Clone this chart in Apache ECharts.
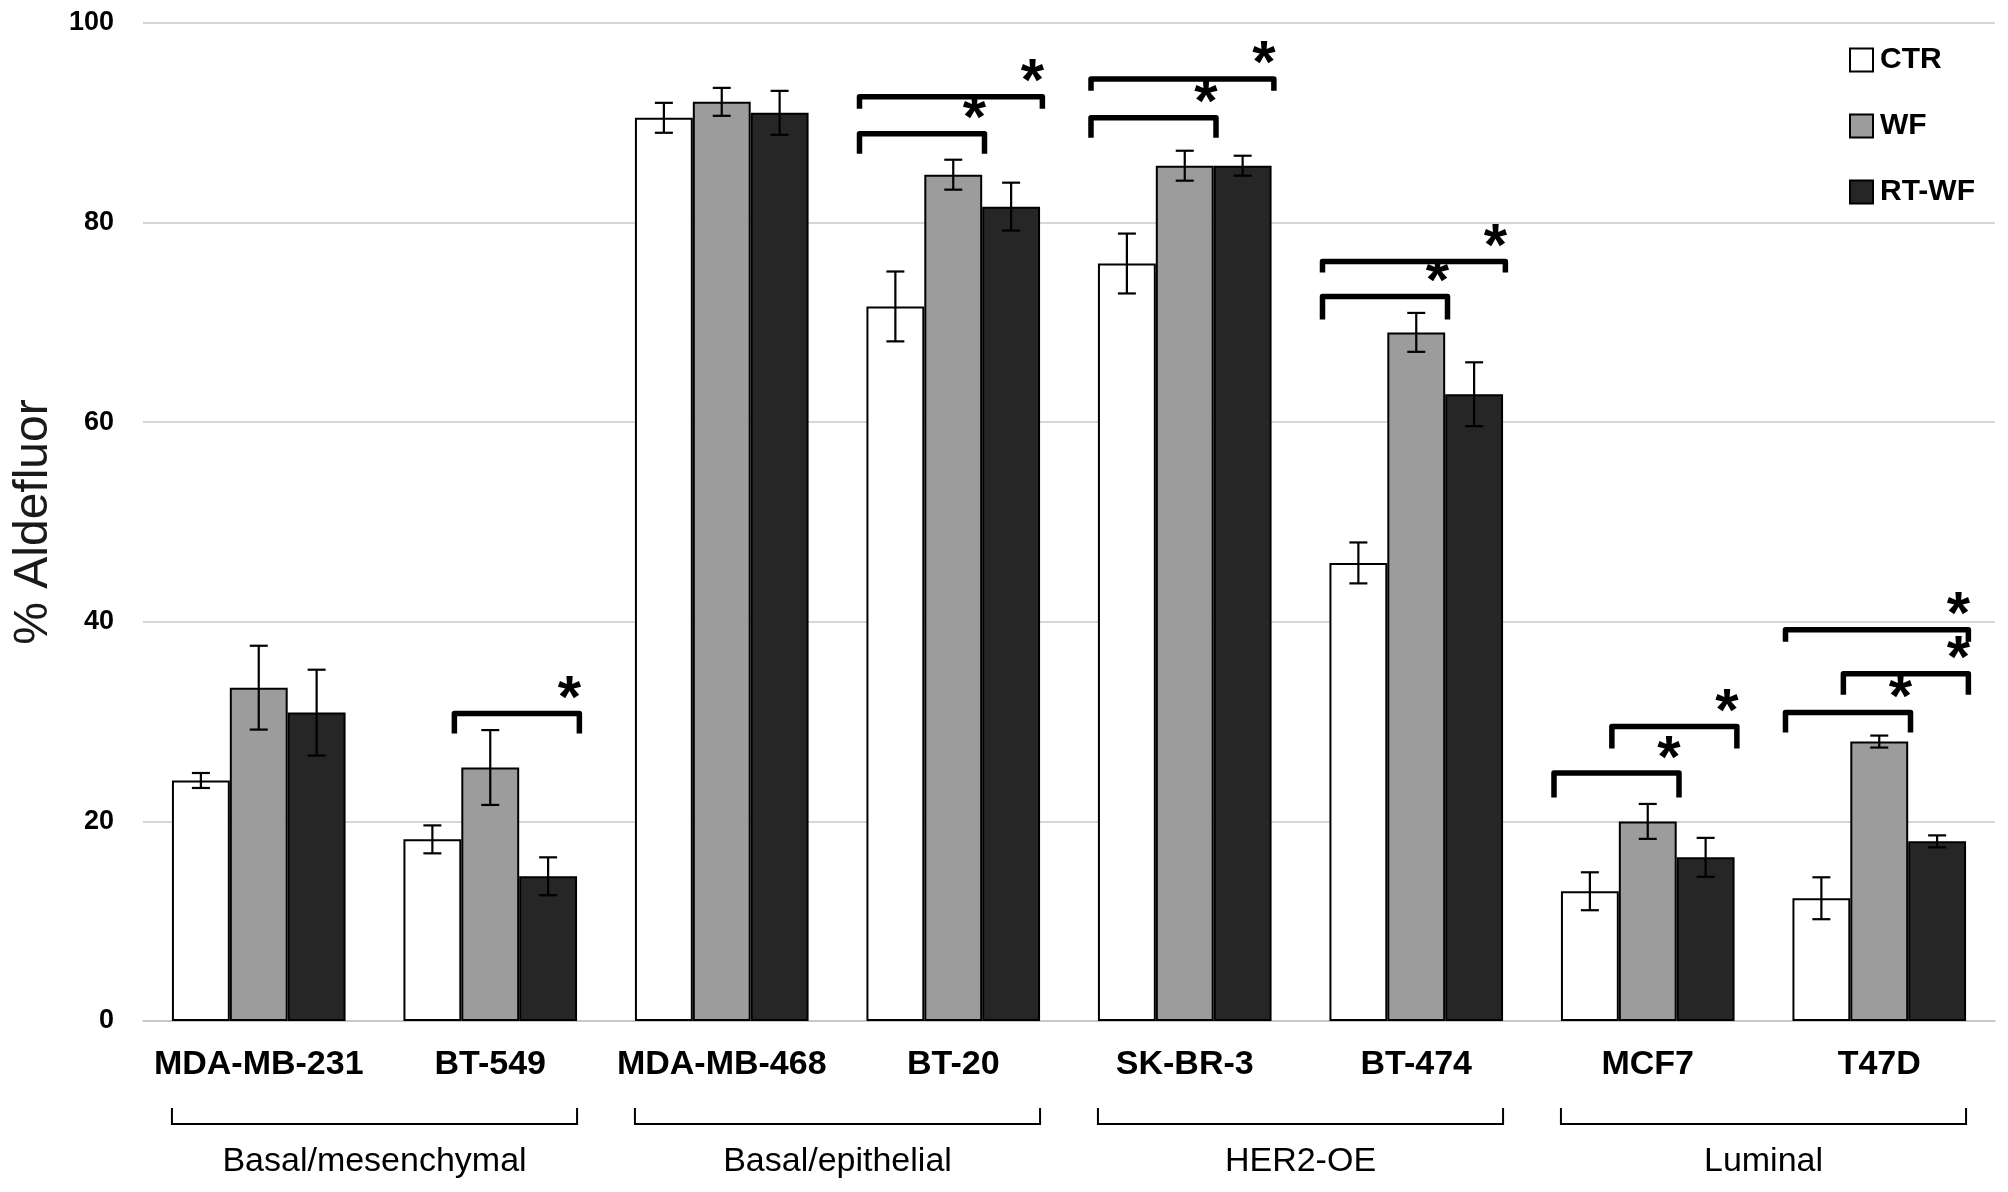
<!DOCTYPE html>
<html>
<head>
<meta charset="utf-8">
<script src="https://cdn.jsdelivr.net/npm/echarts@6/dist/echarts.min.js"></script>
<style>
  html, body { margin: 0; padding: 0; background: #fff; }
  #chart { width: 2008px; height: 1192px; }
</style>
</head>
<body>
<div id="chart"></div>
<script>
const categories = ['MDA-MB-231', 'BT-549', 'MDA-MB-468', 'BT-20', 'SK-BR-3', 'BT-474', 'MCF7', 'T47D'];
const seriesNames = ['CTR', 'WF', 'RT-WF'];

const ctrMean = [24.1, 18.2, 90.5, 71.6, 75.9, 45.9, 13.0, 12.3];
const ctrErr = [0.75, 1.4, 1.5, 3.5, 3.0, 2.05, 1.9, 2.1];
const wfMean = [33.4, 25.4, 92.1, 84.8, 85.7, 69.0, 20.0, 28.0];
const wfErr = [4.2, 3.75, 1.4, 1.5, 1.5, 1.95, 1.75, 0.6];
const rtwfMean = [30.9, 14.5, 91.0, 81.6, 85.7, 62.8, 16.4, 18.0];
const rtwfErr = [4.3, 1.9, 2.2, 2.4, 1.0, 3.2, 1.95, 0.6];

// significance brackets: category, first bar, last bar, bracket level, tail end
const sigCat = [1, 3, 3, 4, 4, 5, 5, 6, 6, 7, 7, 7];
const sigFrom = [1, 0, 0, 0, 0, 0, 0, 0, 1, 0, 1, 0];
const sigTo = [2, 1, 2, 1, 2, 1, 2, 1, 2, 1, 2, 2];
const sigLevel = [30.8, 88.9, 92.6, 90.5, 94.4, 72.6, 76.1, 24.85, 29.5, 30.9, 34.8, 39.2];
const sigTail = [28.8, 86.9, 91.4, 88.5, 93.2, 70.3, 75.0, 22.4, 27.3, 28.9, 32.7, 38.0];

// subtype groups below the axis
const groupNames = ['Basal/mesenchymal', 'Basal/epithelial', 'HER2-OE', 'Luminal'];
const groupFirst = [0, 2, 4, 6];
const groupLast = [1, 3, 5, 7];

const yTicks = { min: 0, max: 100, interval: 20 };

const sans = '"Liberation Sans", Arial, sans-serif';
const fills = ['#ffffff', '#9c9c9c', '#262626'];
const means = [ctrMean, wfMean, rtwfMean];
const errs = [ctrErr, wfErr, rtwfErr];

const chart = echarts.init(document.getElementById('chart'), null, { renderer: 'canvas' });

const barSeries = seriesNames.map((name, i) => ({
  name,
  type: 'bar',
  data: means[i],
  barGap: '0%',
  barCategoryGap: '25%',
  itemStyle: { color: fills[i], borderColor: '#000', borderWidth: 2 },
  z: 2
}));

const errData = [];
means.forEach((m, s) => m.forEach((v, c) => errData.push([c, v, errs[s][c], s])));

const sigData = sigCat.map((c, i) => [c, sigLevel[i], sigTail[i], sigFrom[i], sigTo[i]]);
const groupData = groupNames.map((n, i) => [groupFirst[i], 0, groupLast[i], i]);

chart.setOption({
  animation: false,
  backgroundColor: '#fff',
  grid: { left: 143, right: 13, top: 23, bottom: 171 },
  legend: {
    data: seriesNames,
    orient: 'vertical',
    left: 1844,
    top: 40,
    itemWidth: 23,
    itemHeight: 23,
    itemGap: 36,
    icon: 'rect',
    itemStyle: { borderColor: '#000', borderWidth: 2 },
    textStyle: {
      fontFamily: sans, fontWeight: 'bold', fontSize: 30, color: '#000',
      lineHeight: 23, padding: [0, 0, 0, 2]
    }
  },
  xAxis: {
    type: 'category',
    data: categories,
    axisTick: { show: false },
    axisLine: { lineStyle: { color: '#c4c4c4', width: 1.5 } },
    axisLabel: { interval: 0, margin: 27, color: '#000', fontFamily: sans, fontWeight: 'bold', fontSize: 34 }
  },
  yAxis: {
    type: 'value',
    min: yTicks.min,
    max: yTicks.max,
    interval: yTicks.interval,
    name: '% Aldefluor',
    nameLocation: 'middle',
    nameGap: 77,
    nameTextStyle: { fontFamily: sans, fontSize: 48, color: '#1a1a1a' },
    axisLine: { show: false },
    axisTick: { show: false },
    splitLine: { lineStyle: { color: '#c8c8c8', width: 1.5 } },
    axisLabel: { margin: 29, color: '#000', fontFamily: sans, fontWeight: 'bold', fontSize: 27 }
  },
  series: [
    ...barSeries,
    {
      name: 'err',
      type: 'custom',
      data: errData,
      encode: { x: 0, y: 1 },
      z: 5,
      silent: true,
      renderItem(params, api) {
        const c = api.value(0), v = api.value(1), e = api.value(2), s = api.value(3);
        const bw = api.size([1, 0])[0] * 0.25;
        const x = api.coord([c, v])[0] + (s - 1) * bw;
        const yHi = api.coord([c, v + e])[1];
        const yLo = api.coord([c, v - e])[1];
        const cap = 9;
        const style = { stroke: '#000', lineWidth: 2.2, fill: null };
        return {
          type: 'group',
          children: [
            { type: 'line', shape: { x1: x, y1: yHi, x2: x, y2: yLo }, style },
            { type: 'line', shape: { x1: x - cap, y1: yHi, x2: x + cap, y2: yHi }, style },
            { type: 'line', shape: { x1: x - cap, y1: yLo, x2: x + cap, y2: yLo }, style }
          ]
        };
      }
    },
    {
      name: 'sig',
      type: 'custom',
      data: sigData,
      encode: { x: 0, y: 1 },
      z: 6,
      silent: true,
      renderItem(params, api) {
        const c = api.value(0), lvl = api.value(1), tail = api.value(2);
        const from = api.value(3), to = api.value(4);
        const w = api.size([1, 0])[0];
        const bw = w * 0.25;
        const p = api.coord([c, lvl]);
        const yt = api.coord([c, tail])[1];
        const left = p[0] + (from - 1) * bw - bw / 2 - 0.03 * w;
        const right = p[0] + (to - 1) * bw + bw / 2 + 0.01 * w;
        return {
          type: 'group',
          children: [
            {
              type: 'polyline',
              shape: { points: [[left, yt], [left, p[1]], [right, p[1]], [right, yt]] },
              style: { stroke: '#000', lineWidth: 5.5, fill: null, lineJoin: 'round' }
            },
            {
              type: 'text',
              style: {
                x: right - 10, y: p[1] - 13, text: '*',
                fill: '#000', font: 'bold 60px ' + sans,
                align: 'center', verticalAlign: 'middle'
              }
            }
          ]
        };
      }
    },
    {
      name: 'groups',
      type: 'custom',
      data: groupData,
      encode: { x: 0, y: 1 },
      clip: false,
      silent: true,
      renderItem(params, api) {
        const first = api.value(0), last = api.value(2), gi = api.value(3);
        const w = api.size([1, 0])[0];
        const p0 = api.coord([first, 0]);
        const p1 = api.coord([last, 0]);
        const left = p0[0] - 0.375 * w;
        const right = p1[0] + 0.375 * w;
        const y0 = p0[1] + 87;
        const y1 = y0 + 16;
        return {
          type: 'group',
          children: [
            {
              type: 'polyline',
              shape: { points: [[left, y0], [left, y1], [right, y1], [right, y0]] },
              style: { stroke: '#000', lineWidth: 2, fill: null }
            },
            {
              type: 'text',
              style: {
                x: (left + right) / 2, y: p0[1] + 141, text: groupNames[gi],
                fill: '#000', font: '34px ' + sans,
                align: 'center', verticalAlign: 'middle'
              }
            }
          ]
        };
      }
    }
  ]
});
</script>
</body>
</html>
